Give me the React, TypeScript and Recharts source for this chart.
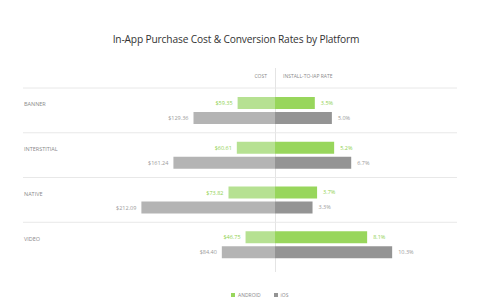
import React from 'react';
import { BarChart, Bar, XAxis, YAxis, CartesianGrid, LabelList } from 'recharts';

const categories = ['BANNER', 'INTERSTITIAL', 'NATIVE', 'VIDEO'];
const androidCost = [59.35, 60.61, 73.82, 46.75];
const iosCost = [129.36, 161.24, 212.09, 84.4];
const androidRate = [3.5, 5.2, 3.7, 8.1];
const iosRate = [5.0, 6.7, 3.3, 10.3];

const data = categories.map((name, i) => ({
  name,
  androidCost: androidCost[i],
  iosCost: iosCost[i],
  androidRate: androidRate[i],
  iosRate: iosRate[i],
}));

const FONT = '"Open Sans", sans-serif';
const GREEN_TEXT = '#8fd14f';
const GRAY_TEXT = '#9a9a9a';

// grid lines sit on the band edges, not on the tick centres
const bandLines = ({ offset }: any) =>
  [0, 1, 2, 3].map((i) => offset.top + (i * offset.height) / 4);

const CategoryTick = ({ y, payload }: any) => (
  <text x={1} y={y - 6} dy={2} textAnchor="start" fontSize={5.5} fill="#8a8a8a" fontFamily={FONT}>
    {payload.value}
  </text>
);

// reversed axis -> bar width can come back negative, so find the real left edge
const costLabel = (color: string) => (props: any) => {
  const { x, y, width, height, value } = props;
  const left = Math.min(Number(x), Number(x) + Number(width));
  return (
    <text x={left - 5} y={Number(y) + Number(height) / 2} dy={2} textAnchor="end" fontSize={5.5} fill={color} fontFamily={FONT}>
      {`$${Number(value).toFixed(2)}`}
    </text>
  );
};

const App: React.FC = () => {
  return (
    <div style={{ position: 'absolute', left: 0, top: 0, width: 480, height: 300, background: '#fff', fontFamily: FONT }}>
      <div style={{ position: 'absolute', top: 32, left: 0, width: 472, textAlign: 'center', fontSize: 10.2, color: '#333', letterSpacing: -0.15 }}>
        In-App Purchase Cost &amp; Conversion Rates by Platform
      </div>

      {/* column headers + centre divider */}
      <div style={{ position: 'absolute', top: 73, left: 200, width: 67, textAlign: 'right', fontSize: 5, color: '#8a8a8a' }}>COST</div>
      <div style={{ position: 'absolute', top: 73, left: 283, fontSize: 5, color: '#8a8a8a' }}>INSTALL-TO-IAP RATE</div>
      <div style={{ position: 'absolute', top: 68, left: 275, width: 1, height: 204, background: '#e4e4e4' }} />

      <div style={{ position: 'absolute', left: 23, top: 80 }}>
        <BarChart width={252} height={187} data={data} layout="vertical" margin={{ top: 8, right: 0, left: 0, bottom: 0 }} barSize={12} barGap={3} barCategoryGap={0}>
          <CartesianGrid vertical={false} stroke="#e8e8e8" horizontalCoordinatesGenerator={bandLines} />
          <XAxis type="number" domain={[0, 400]} reversed hide />
          <YAxis type="category" dataKey="name" mirror axisLine={false} tickLine={false} tick={<CategoryTick />} />
          <Bar dataKey="androidCost" fill="#b6e192" isAnimationActive={false}>
            <LabelList dataKey="androidCost" content={costLabel(GREEN_TEXT)} />
          </Bar>
          <Bar dataKey="iosCost" fill="#b4b4b4" isAnimationActive={false}>
            <LabelList dataKey="iosCost" content={costLabel(GRAY_TEXT)} />
          </Bar>
        </BarChart>
      </div>

      <div style={{ position: 'absolute', left: 275, top: 80 }}>
        <BarChart width={182} height={187} data={data} layout="vertical" margin={{ top: 8, right: 0, left: 0, bottom: 0 }} barSize={12} barGap={3} barCategoryGap={0}>
          <CartesianGrid vertical={false} stroke="#e8e8e8" horizontalCoordinatesGenerator={bandLines} />
          <XAxis type="number" domain={[0, 16]} hide />
          <YAxis type="category" dataKey="name" hide />
          <Bar dataKey="androidRate" fill="#98d65c" isAnimationActive={false}>
            <LabelList dataKey="androidRate" position="right" offset={6} fontSize={5.5} fill={GREEN_TEXT} fontFamily={FONT} formatter={(v: any) => `${Number(v).toFixed(1)}%`} />
          </Bar>
          <Bar dataKey="iosRate" fill="#949494" isAnimationActive={false}>
            <LabelList dataKey="iosRate" position="right" offset={6} fontSize={5.5} fill={GRAY_TEXT} fontFamily={FONT} formatter={(v: any) => `${Number(v).toFixed(1)}%`} />
          </Bar>
        </BarChart>
      </div>

      {/* legend */}
      <div style={{ position: 'absolute', top: 292, left: 231, display: 'flex', alignItems: 'center', gap: 3, fontSize: 5, color: '#8a8a8a' }}>
        <span style={{ width: 4, height: 4, background: '#98d65c', display: 'inline-block' }} />
        <span>ANDROID</span>
        <span style={{ width: 4, height: 4, background: '#949494', display: 'inline-block', marginLeft: 10 }} />
        <span>iOS</span>
      </div>
    </div>
  );
};

export default App;
